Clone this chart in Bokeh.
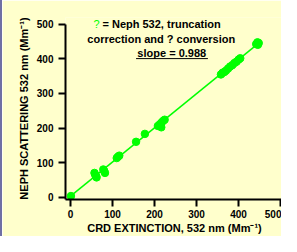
from bokeh.plotting import figure
from bokeh.models import Label, Range1d, FixedTicker
from bokeh.embed import file_html
from bokeh.resources import INLINE

# ---- data ----
crd_ext = [1, 57, 59, 61, 62, 78, 80, 82, 110, 113, 116, 156, 177,
           208, 212, 216, 220, 224, 216,
           358, 362, 366, 370, 375, 380, 385, 390, 395, 400, 404,
           442, 445, 448, 446]
neph_scat = [3, 70, 64, 60, 57, 80, 76, 70, 113, 117, 120, 160, 183,
             206, 210, 215, 220, 224, 202,
             355, 360, 362, 366, 372, 378, 382, 388, 392, 398, 402,
             443, 448, 446, 441]
fit_x = [0, 448]
fit_y = [3, 446]
x_ticks = [0, 100, 200, 300, 400, 500]
y_ticks = [0, 100, 200, 300, 400, 500]

FONT = "Liberation Sans"
BG = "#ffffcc"
GREEN = "#00ff00"

p = figure(width=281, height=236, output_backend="svg", toolbar_location=None,
           x_range=Range1d(-12, 507), y_range=Range1d(-7, 520),
           min_border_left=63, min_border_right=0, min_border_top=17,
           min_border_bottom=37)
p.background_fill_color = BG
p.border_fill_color = BG
p.outline_line_color = None
p.grid.visible = False
p.styles = {"border-left": "2px solid #7070a4"}

p.line(fit_x, fit_y, line_color=GREEN, line_width=1.5)
p.scatter(crd_ext, neph_scat, size=7.5, fill_color=GREEN, line_color=GREEN)

for ax, ticks in ((p.xaxis[0], x_ticks), (p.yaxis[0], y_ticks)):
    ax.ticker = FixedTicker(ticks=ticks)
    ax.minor_tick_line_color = None
    ax.major_tick_in = 0
    ax.axis_line_width = 2
    ax.major_tick_line_width = 2
    ax.major_label_text_font = FONT
    ax.major_label_text_font_style = "bold"
    ax.major_label_text_font_size = "10px"
    ax.major_label_text_color = "black"
    ax.axis_label_text_font = FONT
    ax.axis_label_text_font_style = "bold"
    ax.axis_label_text_font_size = "11px"
    ax.axis_label_text_color = "black"

p.yaxis.bounds = (-7, 500)
p.xaxis.major_tick_out = 7
p.yaxis.major_tick_out = 7
p.xaxis.major_label_standoff = 3
p.yaxis.major_label_standoff = 5
p.xaxis.axis_label = "CRD EXTINCTION, 532 nm (Mm\u207b\u00b9)"
p.yaxis.axis_label = "NEPH SCATTERING 532 nm (Mm\u207b\u00b9)"
p.xaxis.axis_label_standoff = 1
p.yaxis.axis_label_standoff = 4

def note(x, y, text, align="left", color="black", style="bold"):
    p.add_layout(Label(x=x, y=y, text=text, text_align=align,
                       text_baseline="middle", text_font=FONT,
                       text_font_style=style, text_font_size="11px",
                       text_color=color))

note(69, 500, "?", align="right", color=GREEN, style="normal")
note(76, 500, "= Neph 532, truncation")
note(216, 459, "correction and ? conversion", align="center")
note(241, 418, "slope = 0.988", align="center")
p.segment(x0=[156], y0=[401], x1=[327], y1=[401], line_color="black", line_width=1)

open("out.html", "w").write(file_html(p, INLINE))
